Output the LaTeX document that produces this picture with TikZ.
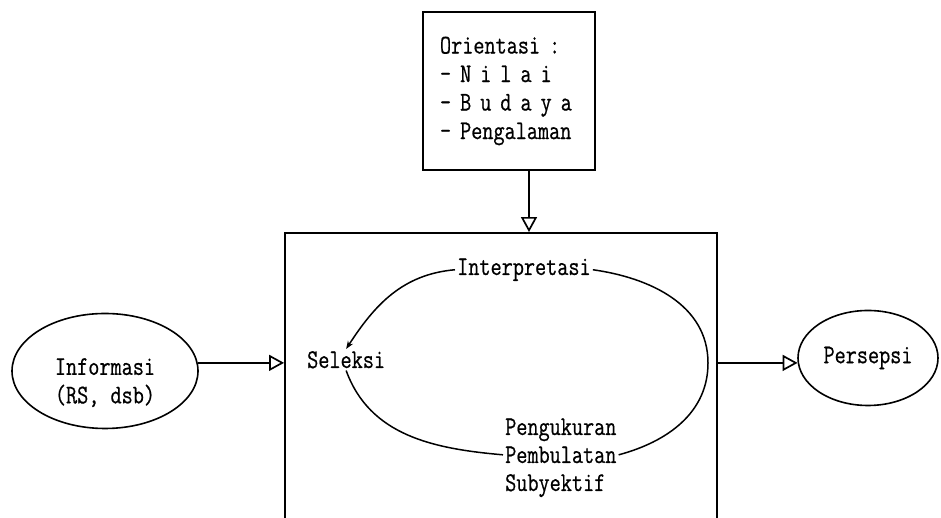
\documentclass[tikz,border=0pt]{standalone}
\usepackage{fontspec}
\setmonofont[FakeStretch=0.8,FakeBold=0.6]{Latin Modern Mono}
\usepackage{tikz}
\usetikzlibrary{arrows.meta,calc,positioning,shapes.geometric}

\begin{document}
\begin{tikzpicture}[x=1pt,y=1pt,>={Triangle[open,length=15pt,width=16pt]},
  font=\ttfamily\fontsize{27}{28.5}\selectfont,
  kotak/.style={draw,line width=1.9pt,inner sep=0pt},
  elips/.style={draw,ellipse,line width=1.6pt,inner sep=0pt,align=center},
  teks/.style={inner sep=2pt,anchor=base west},
  panah/.style={->,line width=1.7pt},
  putar/.style={line width=1.5pt}]
\useasboundingbox (0,0) rectangle (941,518);
\clip (0,0) rectangle (941,518);
% kotak orientasi dan kotak proses
\node[kotak,minimum width=172pt,minimum height=158pt,text width=138pt,align=left] (orient) at (509,427)
  {Orientasi :\\- N i l a i\\- B u d a y a\\- Pengalaman};
\node[kotak,minimum width=432pt,minimum height=330pt] (proses) at (501,120) {};
% masukan dan keluaran
\node[elips,minimum width=186pt,minimum height=115pt] (info) at (105,147) {\rule{0pt}{40pt}Informasi\\(RS, dsb)};
\node[elips,minimum width=140pt,minimum height=95pt] (persepsi) at (868,160) {Persepsi};
% siklus di dalam kotak
\node[teks] (interp) at (455,243) {Interpretasi};
\node[teks] (seleksi) at (305,150) {Seleksi};
\node[teks] (ukur1) at (503,83) {Pengukuran};
\node[teks] (ukur2) at (503,55) {Pembulatan};
\node[teks] (ukur3) at (503,27) {Subyektif};
\coordinate (kanan) at (708,155);
\coordinate (turun) at ([xshift=20pt]orient.south);
\draw[panah] (turun) -- (turun |- proses.north);
\draw[panah] (info.5) -- (info.5 -| proses.west);
\draw[panah] (proses.east |- persepsi.184) -- (persepsi.184);
\draw[putar,-{Stealth[length=8pt,width=6pt]}] (interp.west) to[out=185,in=57] (seleksi.north);
\draw[putar] (seleksi.south) to[out=-70,in=175] (ukur2.west);
\draw[putar] (ukur2.east) to[out=15,in=-90] (kanan) to[out=90,in=-8] (interp.east);
\end{tikzpicture}
\end{document}
